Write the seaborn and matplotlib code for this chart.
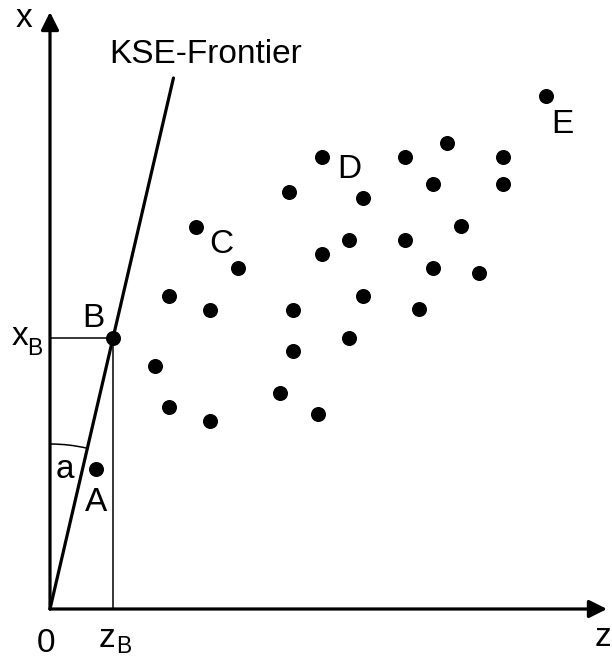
import numpy as np
import pandas as pd
import matplotlib
matplotlib.use("Agg")
import matplotlib.pyplot as plt
from matplotlib.patches import Arc
import seaborn as sns

# Firms in the (z, x) plane
cloud_z = [27.2, 23.9, 31.3, 14.6, 29.9, 27.2, 18.8, 11.9, 31.3, 16.0,
           24.3, 29.9, 24.3, 10.5, 23.0, 11.9, 26.8, 16.0, 39.7, 35.5,
           45.3, 38.3, 45.3, 41.1, 35.5, 38.3, 42.9, 36.9, 49.6]
cloud_x = [45.2, 41.7, 41.1, 38.2, 36.9, 35.5, 34.1, 31.3, 31.3, 29.9,
           29.9, 27.1, 25.8, 24.3, 21.6, 20.2, 19.5, 18.8, 46.6, 45.2,
           45.2, 42.5, 42.5, 38.3, 36.9, 34.1, 33.6, 30.0, 51.3]
point_A = (4.6, 14.0)
point_B = (6.3, 27.1)
frontier_top = 53.1

# Named firms: label, z, x, label offset (points)
named = [("C", 14.6, 38.2, 18.0, -18.7),
         ("D", 27.2, 45.2, 19.4, -15.1),
         ("E", 49.6, 51.3, 11.5, -26.6),
         ("A", point_A[0], point_A[1], 0.0, -30.2),
         ("B", point_B[0], point_B[1], -14.4, 7.9)]

sns.set_style("white")
plt.rcParams["font.family"] = ["Liberation Sans", "DejaVu Sans"]
plt.rcParams["text.color"] = "black"

fig = plt.figure(figsize=(6.12, 6.58), dpi=100)
ax = fig.add_axes([0, 0, 1, 1])
ax.set_xlim(-5.0, 56.2)
ax.set_ylim(-4.9, 60.9)
ax.axis("off")

df = pd.DataFrame({
    "z": cloud_z + [point_A[0], point_B[0]],
    "x": cloud_x + [point_A[1], point_B[1]],
})
sns.scatterplot(data=df, x="z", y="x", color="black", s=117,
                linewidth=0, ax=ax, zorder=5, legend=False)

# Coordinate axes with arrowheads
arrow = dict(arrowstyle="-|>,head_length=0.6,head_width=0.3",
             mutation_scale=18, lw=2.3, color="black",
             shrinkA=0, shrinkB=0)
ax.annotate("", xy=(55.7, 0), xytext=(0, 0), arrowprops=arrow)
ax.annotate("", xy=(0, 59.7), xytext=(0, 0), arrowprops=arrow)

# KSE frontier: ray from origin through B
slope = point_B[0] / point_B[1]
front = pd.DataFrame({"z": [0, frontier_top * slope], "x": [0, frontier_top]})
sns.lineplot(data=front, x="z", y="x", color="black", lw=2.3, ax=ax,
             sort=False, legend=False)

# Guides from B to the axes
ax.plot([point_B[0], point_B[0]], [0, point_B[1]], color="black", lw=1.1)
ax.plot([0, point_B[0]], [point_B[1], point_B[1]], color="black", lw=1.1)

# Angle a between the x axis and the frontier
ang = np.degrees(np.arctan(slope))
r = 16.5
ax.add_patch(Arc((0, 0), 2 * r, 2 * r, theta1=90 - ang, theta2=90,
                 color="black", lw=1.1))

fs = 24
for lab, z, x, dx, dy in named:
    ax.annotate(lab, xy=(z, x), xytext=(dx, dy), textcoords="offset points",
                ha="center", va="baseline", fontsize=fs, color="black")

txt = dict(va="baseline", color="black")
ax.text(15.6, 54.6, "KSE-Frontier", ha="center", fontsize=fs, **txt)
ax.text(-2.6, 58.2, "x", ha="center", fontsize=fs, **txt)
ax.text(55.3, -3.7, "z", ha="center", fontsize=fs, **txt)
ax.text(-0.4, -4.3, "0", ha="center", fontsize=fs, **txt)
ax.text(1.5, 13.1, "a", ha="center", fontsize=fs, **txt)
ax.text(-3.8, 26.4, "x", ha="left", fontsize=fs, **txt)
ax.text(-2.3, 25.4, "B", ha="left", fontsize=16.5, **txt)
ax.text(4.9, -3.8, "z", ha="left", fontsize=fs, **txt)
ax.text(6.6, -4.4, "B", ha="left", fontsize=16.5, **txt)

fig.savefig("out.png", dpi=100, facecolor="white")
